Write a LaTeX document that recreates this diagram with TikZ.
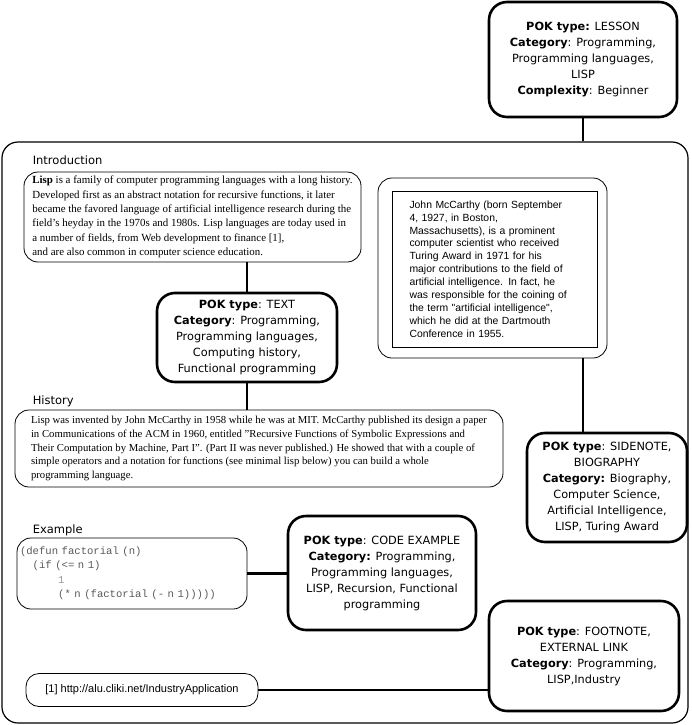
\documentclass[tikz,border=0pt]{standalone}
\usepackage{fontspec}
\setmainfont{Liberation Serif}
\newfontfamily\pokfont{DejaVu Sans}
\newfontfamily\notefont{Liberation Sans}
\newfontfamily\codefont[WordSpace={1,0,0}]{Liberation Mono}
\usetikzlibrary{positioning}

\begin{document}
\begin{tikzpicture}[
  x=1pt,y=-1pt,
  node distance=8pt and 10pt,
  box/.style={draw,rounded corners=14pt,line width=0.8pt,inner sep=0pt},
  pok/.style={draw,rounded corners=18pt,line width=2.6pt,align=center,inner sep=0pt,
    font=\pokfont\fontsize{11.3}{16}\selectfont},
  prose/.style={box,align=left,font=\fontsize{10.7}{13.9}\selectfont},
  tag/.style={inner sep=0pt,anchor=base west,font=\pokfont\fontsize{11.5}{13}\selectfont},
  link/.style={line width=2.8pt}
]
\useasboundingbox (0,0) rectangle (691,725);

% page frame and the lesson on top
\node[draw,rounded corners=16pt,line width=1.2pt,minimum width=686pt,minimum height=581pt,inner sep=0pt] (page) at (345,432.5) {};
\node[pok,minimum width=188pt,minimum height=115pt] (lesson) at (583,59.5)
  {\textbf{POK type:} LESSON\\\textbf{Category}: Programming,\\Programming languages,\\LISP\\\textbf{Complexity}: Beginner};
\draw[link] (lesson.south) -- (lesson.south |- page.north);

% introduction
\node[prose,minimum width=337pt,minimum height=90pt,font=\fontsize{10.9}{14.3}\selectfont] (intro) at (192.5,217)
  {\textbf{Lisp} is a family of computer programming languages with a long history.\\
   Developed first as an abstract notation for recursive functions, it later\\
   became the favored language of artificial intelligence research during the\\
   field's heyday in the 1970s and 1980s. Lisp languages are today used in\\
   a number of fields, from Web development to finance [1],\\
   and are also common in computer science education.};
\node[tag] (introtag) at ([xshift=9pt,yshift=7pt]intro.north west) {Introduction};
\node[pok,minimum width=180pt,minimum height=89pt] (textpok) at (247,337.5)
  {\textbf{POK type}: TEXT\\\textbf{Category}: Programming,\\Programming languages,\\Computing history,\\Functional programming};
\draw[link] (textpok.north) -- (textpok.north |- intro.south);

% history
\node[prose,minimum width=488pt,minimum height=77pt] (history) at (259,448.5)
  {Lisp was invented by John McCarthy in 1958 while he was at MIT. McCarthy published its design a paper\\
   in Communications of the ACM in 1960, entitled "Recursive Functions of Symbolic Expressions and\\
   Their Computation by Machine, Part I". (Part II was never published.) He showed that with a couple of\\
   simple operators and a notation for functions (see minimal lisp below) you can build a whole\\
   programming language.};
\node[tag] (historytag) at ([xshift=18pt,yshift=5pt]history.north west) {History};
\draw[link] (textpok.south) -- (textpok.south |- history.north);

% sidenote
\node[box,minimum width=229pt,minimum height=180pt] (sidenote) at (492.5,268) {};
\node[draw,line width=0.8pt,rectangle,text width=170pt,inner xsep=17.5pt,inner ysep=0pt,minimum height=156pt,align=left,
  font=\notefont\fontsize{10.4}{12.9}\selectfont] (bio) at (494.5,269)
  {John McCarthy (born September\\4, 1927, in Boston,\\Massachusetts), is a prominent\\computer scientist who received\\
   Turing Award in 1971 for his\\major contributions to the field of\\artificial intelligence. In fact, he\\
   was responsible for the coining of\\the term "artificial intelligence",\\which he did at the Dartmouth\\Conference in 1955.};
\node[pok,minimum width=160pt,minimum height=109pt] (sidepok) at (607,487.5)
  {\textbf{POK type}: SIDENOTE,\\BIOGRAPHY\\\textbf{Category:} Biography,\\Computer Science,\\Artificial Intelligence,\\LISP, Turing Award};
\draw[link] ([xshift=-24pt]sidepok.north) -- ([xshift=-24pt]sidepok.north |- sidenote.south);

% code example
\node[box,text width=224pt,inner xsep=3pt,inner ysep=0pt,minimum height=71pt,align=left,text=black!65,
  font=\codefont\fontsize{10.6}{14.5}\selectfont] (code) at (132,573.5)
  {(defun factorial (n)\\
   \phantom{xx}(if (<= n 1)\\
   \phantom{xxxxxx}\textcolor{black!40}{1}\\
   \phantom{xxxxxx}(* n (factorial (- n 1)))))\\[5pt]};
\node[tag] (codetag) at ([xshift=16pt,yshift=4pt]code.north west) {Example};
\node[pok,minimum width=188pt,minimum height=114pt] (codepok) at (382,573)
  {\textbf{POK type}: CODE EXAMPLE\\\textbf{Category:} Programming,\\Programming languages,\\LISP, Recursion, Functional\\programming};
\draw[link] (code.east) -- (code.east -| codepok.west);

% footnote
\node[box,rounded corners=13pt,minimum width=232pt,minimum height=33pt,font=\notefont\fontsize{11}{13}\selectfont] (url) at (142,690)
  {[1] http://alu.cliki.net/IndustryApplication};
\node[pok,minimum width=190pt,minimum height=110pt] (footpok) at (584,656)
  {\textbf{POK type}: FOOTNOTE,\\EXTERNAL LINK\\\textbf{Category}: Programming,\\LISP,Industry};
\draw[link] (url.east) -- (url.east -| footpok.west);
\end{tikzpicture}
\end{document}
